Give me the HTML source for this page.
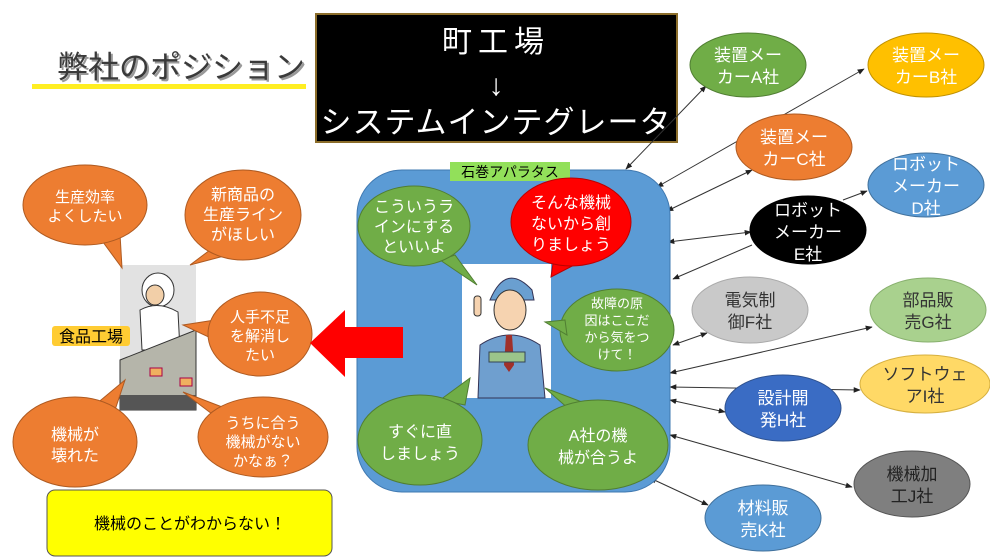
<!DOCTYPE html>
<html><head><meta charset="utf-8"><style>
html,body{margin:0;padding:0;background:#fff;}
svg{display:block;font-family:"Liberation Sans","Noto Sans CJK JP",sans-serif;}
</style></head><body>
<svg width="990" height="560" viewBox="0 0 990 560" xmlns="http://www.w3.org/2000/svg">
<defs>
<marker id="ah" viewBox="0 0 10 10" refX="9" refY="5" markerWidth="7" markerHeight="7" orient="auto-start-reverse"><path d="M0,1 L10,5 L0,9 z" fill="#222"/></marker>
</defs>
<rect width="990" height="560" fill="#fff"/>

<!-- title -->
<text x="59" y="80" font-size="31" fill="#999">弊社のポジション</text>
<text x="57" y="78" font-size="31" fill="#3a3a3a">弊社のポジション</text>
<rect x="32" y="84" width="274" height="5" fill="#ffee22"/>

<!-- black box -->
<rect x="316" y="14" width="361" height="128" fill="#000" stroke="#8b6d2a" stroke-width="2"/>
<text x="496" y="52" font-size="30" fill="#fff" text-anchor="middle" letter-spacing="6">町工場</text>
<text x="496" y="95" font-size="30" fill="#fff" text-anchor="middle">↓</text>
<text x="496" y="133" font-size="31" fill="#fff" text-anchor="middle" letter-spacing="1">システムインテグレータ</text>

<!-- connectors -->
<g stroke="#333" stroke-width="1" fill="none">
<line x1="626" y1="169" x2="706" y2="86" marker-start="url(#ah)" marker-end="url(#ah)"/>
<line x1="657" y1="187" x2="864" y2="69" marker-start="url(#ah)" marker-end="url(#ah)"/>
<line x1="667" y1="211" x2="752" y2="170" marker-start="url(#ah)" marker-end="url(#ah)"/>
<line x1="668" y1="242" x2="751" y2="232" marker-start="url(#ah)" marker-end="url(#ah)"/>
<line x1="843" y1="200" x2="867" y2="191" marker-end="url(#ah)"/>
<line x1="752" y1="245" x2="673" y2="279" marker-end="url(#ah)"/>
<line x1="673" y1="345" x2="707" y2="333" marker-start="url(#ah)" marker-end="url(#ah)"/>
<line x1="670" y1="373" x2="872" y2="327" marker-start="url(#ah)" marker-end="url(#ah)"/>
<line x1="670" y1="387" x2="860" y2="390" marker-start="url(#ah)" marker-end="url(#ah)"/>
<line x1="670" y1="400" x2="725" y2="412" marker-start="url(#ah)" marker-end="url(#ah)"/>
<line x1="670" y1="435" x2="852" y2="487" marker-start="url(#ah)" marker-end="url(#ah)"/>
<line x1="650" y1="478" x2="708" y2="505" marker-start="url(#ah)" marker-end="url(#ah)"/>
</g>

<!-- blue box -->
<rect x="357" y="170" width="313" height="322" rx="45" fill="#5b9bd5" stroke="#3f78b0" stroke-width="1"/>
<rect x="450" y="162" width="120" height="19" fill="#92e05a"/>
<text x="510" y="177" font-size="14" fill="#000" text-anchor="middle">石巻アパラタス</text>
<!-- person -->
<rect x="462" y="264" width="89" height="134" fill="#fff"/>
<g>
<path d="M490 300 Q506 262 532 290 L534 300 Z" fill="#6a9fd0" stroke="#335" stroke-width="1"/>
<ellipse cx="510" cy="310" rx="16" ry="20" fill="#f6d3b0" stroke="#333"/>
<path d="M480 345 Q510 325 540 345 L545 398 L478 398 Z" fill="#6f9fcf" stroke="#335"/>
<path d="M506 335 L512 335 L514 365 L509 372 L504 365 Z" fill="#a0302a"/>
<rect x="489" y="352" width="36" height="10" fill="#9bc48a" stroke="#345"/>
<rect x="474" y="296" width="7" height="20" rx="3" fill="#f6d3b0" stroke="#333"/>
</g>

<!-- green bubbles -->
<g fill="#70ad47" stroke="#507e32" stroke-width="1">
<path d="M440 260 L477 285 L455 255 Z"/><ellipse cx="414" cy="226" rx="56" ry="40"/>
<ellipse cx="617" cy="330" rx="57" ry="41"/><path d="M565 320 L545 322 L567 335 Z"/>
<path d="M440 400 L470 378 L465 405 Z"/><ellipse cx="420" cy="440" rx="62" ry="45"/>
<path d="M570 410 L545 388 L590 405 Z"/><ellipse cx="598" cy="445" rx="70" ry="45"/>
</g>
<g fill="#ff0000" stroke="#b00" stroke-width="1">
<path d="M555 250 L551 277 L580 262 Z"/><ellipse cx="571" cy="222" rx="60" ry="44"/>
</g>
<g font-size="16" fill="#fff" text-anchor="middle">
<text x="414" y="212">こういうラ</text><text x="414" y="232">インにする</text><text x="414" y="252">といいよ</text>
<text x="571" y="208">そんな機械</text><text x="571" y="229">ないから創</text><text x="571" y="250">りましょう</text>
<text x="617" y="308" font-size="13">故障の原</text><text x="617" y="325" font-size="13">因はここだ</text><text x="617" y="342" font-size="13">から気をつ</text><text x="617" y="359" font-size="13">けて！</text>
<text x="420" y="437">すぐに直</text><text x="420" y="459">しましょう</text>
<text x="598" y="441">A社の機</text><text x="598" y="463">械が合うよ</text>
</g>

<!-- factory image -->
<rect x="120" y="265" width="76" height="145" fill="#e2e2e2"/>
<ellipse cx="158" cy="290" rx="16" ry="17" fill="#fff" stroke="#333"/>
<ellipse cx="155" cy="295" rx="9" ry="10" fill="#f2cfa8" stroke="#333"/>
<path d="M140 310 Q158 300 178 312 L180 350 L142 350 Z" fill="#fff" stroke="#333"/>
<path d="M120 360 L196 330 L196 410 L120 410 Z" fill="#b5b5aa" stroke="#333"/>
<rect x="120" y="395" width="76" height="15" fill="#555"/>
<rect x="150" y="368" width="12" height="8" fill="#f0b060" stroke="#a04"/>
<rect x="180" y="378" width="12" height="8" fill="#f0b060" stroke="#a04"/>
<rect x="52" y="326" width="78" height="20" fill="#ffcc33" rx="3"/>
<text x="91" y="342" font-size="16" fill="#000" text-anchor="middle">食品工場</text>

<!-- orange bubbles -->
<g fill="#ed7d31" stroke="#ae5a21" stroke-width="1">
<path d="M100 238 L122 268 L120 234 Z"/><ellipse cx="85" cy="205" rx="62" ry="40"/>
<path d="M210 250 L190 265 L228 255 Z"/><ellipse cx="243" cy="215" rx="58" ry="45"/>
<path d="M215 320 L183 325 L215 340 Z"/><ellipse cx="260" cy="334" rx="52" ry="42"/>
<path d="M95 405 L125 380 L115 410 Z"/><ellipse cx="75" cy="442" rx="62" ry="45"/>
<path d="M230 410 L183 392 L220 420 Z"/><ellipse cx="263" cy="437" rx="65" ry="40"/>
</g>
<g font-size="15" fill="#fff" text-anchor="middle">
<text x="85" y="202">生産効率</text><text x="85" y="221">よくしたい</text>
<text x="243" y="200" font-size="16">新商品の</text><text x="243" y="220" font-size="16">生産ライン</text><text x="243" y="240" font-size="16">がほしい</text>
<text x="260" y="322">人手不足</text><text x="260" y="341">を解消し</text><text x="260" y="360">たい</text>
<text x="75" y="440" font-size="16">機械が</text><text x="75" y="461" font-size="16">壊れた</text>
<text x="263" y="428">うちに合う</text><text x="263" y="447">機械がない</text><text x="263" y="466">かなぁ？</text>
</g>

<!-- red arrow -->
<path d="M310 343 L345 310 L345 327 L403 327 L403 358 L345 358 L345 377 Z" fill="#ff0000"/>

<!-- yellow box -->
<rect x="47" y="490" width="285" height="66" rx="8" fill="#ffff00" stroke="#555" stroke-width="1"/>
<text x="190" y="529" font-size="16" fill="#000" text-anchor="middle">機械のことがわからない！</text>

<!-- right ellipses -->
<g stroke-width="1">
<ellipse cx="748" cy="65" rx="58" ry="32" fill="#70ad47" stroke="#507e32"/>
<ellipse cx="926" cy="65" rx="58" ry="32" fill="#ffc000" stroke="#bf9000"/>
<ellipse cx="794" cy="147" rx="58" ry="33" fill="#ed7d31" stroke="#ae5a21"/>
<ellipse cx="926" cy="185" rx="58" ry="32" fill="#5b9bd5" stroke="#41719c"/>
<ellipse cx="808" cy="230" rx="58" ry="34" fill="#000" stroke="#000"/>
<ellipse cx="750" cy="310" rx="58" ry="33" fill="#c9c9c9" stroke="#aaa"/>
<ellipse cx="928" cy="310" rx="58" ry="32" fill="#a9d18e" stroke="#88b06e"/>
<ellipse cx="925" cy="384" rx="65" ry="29" fill="#ffd966" stroke="#d6b040"/>
<ellipse cx="783" cy="408" rx="58" ry="33" fill="#3a6cc4" stroke="#2f528f"/>
<ellipse cx="912" cy="484" rx="58" ry="33" fill="#7f7f7f" stroke="#555"/>
<ellipse cx="763" cy="518" rx="58" ry="33" fill="#5b9bd5" stroke="#41719c"/>
</g>
<g font-size="17" text-anchor="middle" fill="#fff">
<text x="748" y="61">装置メー</text><text x="748" y="83">カーA社</text>
<text x="926" y="61">装置メー</text><text x="926" y="83">カーB社</text>
<text x="794" y="143">装置メー</text><text x="794" y="165">カーC社</text>
<text x="926" y="170">ロボット</text><text x="926" y="192">メーカー</text><text x="926" y="214">D社</text>
<text x="808" y="216">ロボット</text><text x="808" y="238">メーカー</text><text x="808" y="260">E社</text>
<text x="750" y="306" fill="#333">電気制</text><text x="750" y="328" fill="#333">御F社</text>
<text x="928" y="306" fill="#333">部品販</text><text x="928" y="328" fill="#333">売G社</text>
<text x="925" y="380" fill="#333">ソフトウェ</text><text x="925" y="402" fill="#333">アI社</text>
<text x="783" y="404">設計開</text><text x="783" y="426">発H社</text>
<text x="912" y="480" fill="#222">機械加</text><text x="912" y="502" fill="#222">工J社</text>
<text x="763" y="514">材料販</text><text x="763" y="536">売K社</text>
</g>
</svg>
</body></html>
